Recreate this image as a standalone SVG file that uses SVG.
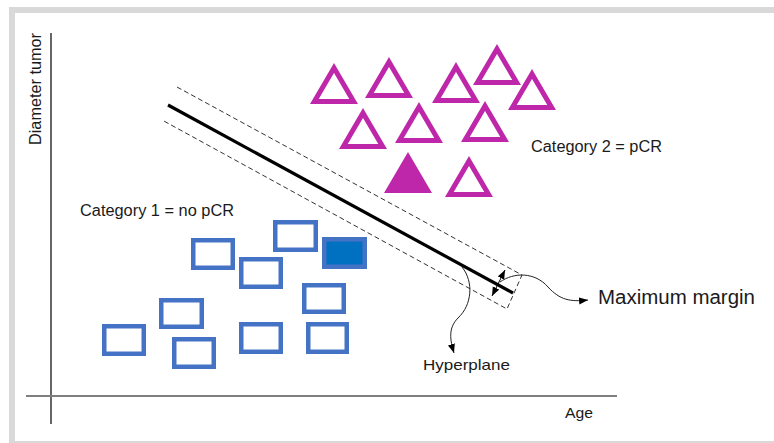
<svg xmlns="http://www.w3.org/2000/svg" width="774" height="443" viewBox="0 0 774 443">
<style>
.sq{fill:#ffffff;stroke:#4472C4;stroke-width:4.5}
.sqf{fill:#0070C0;stroke:#4472C4;stroke-width:4.5}
.tri{fill:#ffffff;stroke:#BE27A9;stroke-width:5;stroke-linejoin:miter}
.trif{fill:#BE27A9;stroke:#BE27A9;stroke-width:5;stroke-linejoin:miter}
.lbl{font-family:"Liberation Sans",Arial,sans-serif;fill:#1a1a1a}
.thin{fill:none;stroke:#222;stroke-width:1}
</style>
<defs>
<polygon id="tri" points="0,4.96 19.63,38.5 -19.63,38.5"/>
<marker id="ah" viewBox="0 0 10 8" refX="10" refY="4" markerWidth="9" markerHeight="8" markerUnits="userSpaceOnUse" orient="auto-start-reverse">
<path d="M0,0 L10,4 L0,8 z" fill="#000"/>
</marker>
</defs>
<rect width="774" height="443" fill="#ffffff"/>
<g id="frame" fill="#D9D9D9">
<rect x="9" y="7" width="765" height="6"/>
<rect x="9" y="7" width="6" height="436"/>
<rect x="9" y="441" width="765" height="2"/>
</g>
<g id="axes">
<line x1="51" y1="33" x2="51" y2="424" stroke="#000" stroke-width="1.2"/>
<line x1="26" y1="396" x2="617" y2="396" stroke="#7F7F7F" stroke-width="2"/>
<text class="lbl" font-size="16" transform="translate(41,145) rotate(-90)" textLength="112" lengthAdjust="spacingAndGlyphs">Diameter tumor</text>
<text class="lbl" x="565" y="418" font-size="15" textLength="28" lengthAdjust="spacingAndGlyphs">Age</text>
</g>
<g id="category2">
<use href="#tri" class="tri" x="334" y="63"/>
<use href="#tri" class="tri" x="389" y="57"/>
<use href="#tri" class="tri" x="456" y="62"/>
<use href="#tri" class="tri" x="497" y="44"/>
<use href="#tri" class="tri" x="532" y="69"/>
<use href="#tri" class="tri" x="363" y="108"/>
<use href="#tri" class="tri" x="419" y="102"/>
<use href="#tri" class="tri" x="485" y="101"/>
<use href="#tri" class="trif" x="408" y="152"/>
<use href="#tri" class="tri" x="469" y="156"/>
<text class="lbl" x="531" y="152" font-size="16" textLength="131" lengthAdjust="spacingAndGlyphs">Category 2 = pCR</text>
</g>
<g id="category1">
<rect class="sq" x="193.25" y="240.25" width="39.5" height="27.5"/>
<rect class="sq" x="275.25" y="222.25" width="40.5" height="27.5"/>
<rect class="sq" x="241.25" y="259.25" width="39.5" height="27.5"/>
<rect class="sqf" x="324.25" y="239.25" width="40.5" height="27.5"/>
<rect class="sq" x="304.25" y="285.25" width="39.5" height="26.5"/>
<rect class="sq" x="161.25" y="300.25" width="40.5" height="26.5"/>
<rect class="sq" x="104.25" y="326.25" width="39.5" height="27.5"/>
<rect class="sq" x="174.25" y="339.25" width="39.5" height="27.5"/>
<rect class="sq" x="241.25" y="324.25" width="39.5" height="27.5"/>
<rect class="sq" x="308.25" y="324.25" width="38.5" height="27.5"/>
<text class="lbl" x="80" y="216" font-size="16" textLength="154" lengthAdjust="spacingAndGlyphs">Category 1 = no pCR</text>
</g>
<g id="hyperplane">
<path d="M177,87 L522,275 L507,309 L162,120" fill="none" stroke="#333" stroke-width="1" stroke-dasharray="5,3"/>
<line x1="168" y1="105" x2="513" y2="293" stroke="#000" stroke-width="3.2"/>
<text class="lbl" x="423" y="370" font-size="15" textLength="87" lengthAdjust="spacingAndGlyphs">Hyperplane</text>
<text class="lbl" x="598" y="304" font-size="20" textLength="157" lengthAdjust="spacingAndGlyphs">Maximum margin</text>
</g>
<g id="connectors">
<line x1="505" y1="270" x2="492" y2="296" stroke="#000" stroke-width="1" marker-start="url(#ah)" marker-end="url(#ah)"/>
<path class="thin" d="M500,282 C514,272 535,272 548,287 C560,300 570,302 588,300" marker-end="url(#ah)"/>
<path class="thin" d="M462,267 C474,282 472,305 458,318 C448,328 450,340 454,353" marker-end="url(#ah)"/>
</g>
</svg>
